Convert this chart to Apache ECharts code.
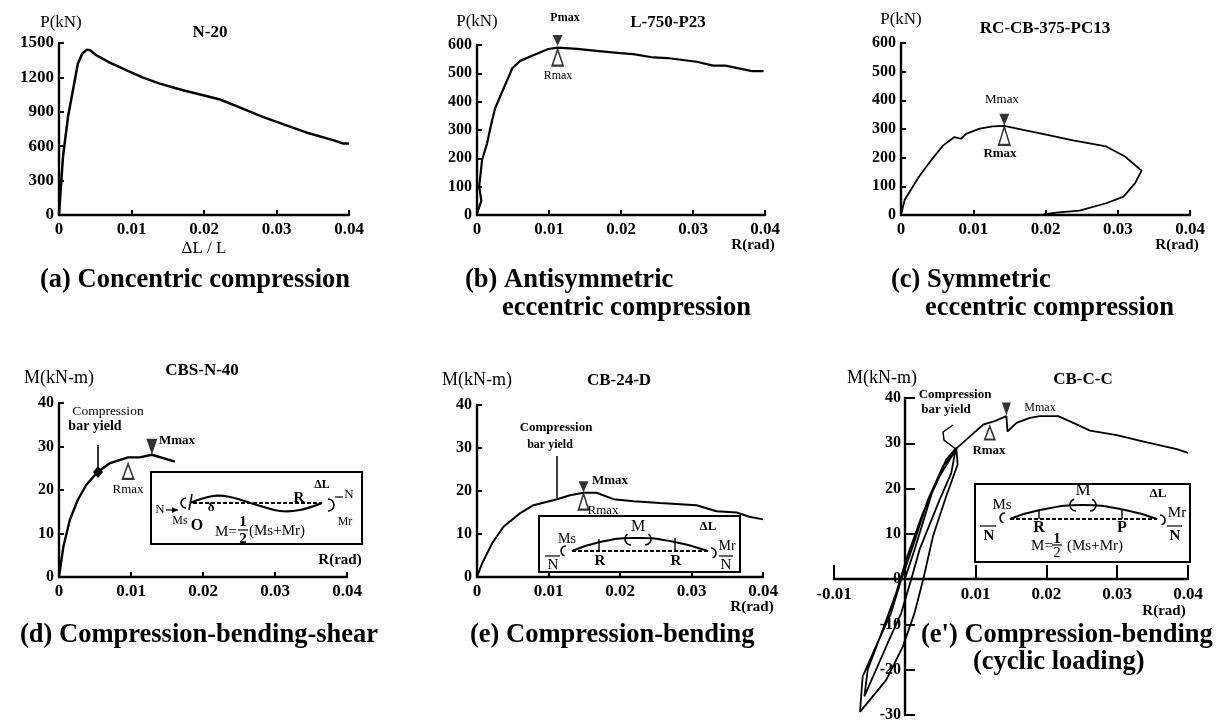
<!DOCTYPE html>
<html><head><meta charset="utf-8">
<style>html,body{margin:0;padding:0;background:#fff}#c{width:1223px;height:720px}</style>
<script src="https://cdn.jsdelivr.net/npm/echarts@6/dist/echarts.min.js"></script>
</head><body><div id="c"></div>
<script>
// ---- data: [x, y] ----
const curveA = [[0,0],[0.00023,218],[0.00055,508],[0.00124,856],[0.00184,1059],[0.0026,1320],[0.0032,1407],[0.00386,1442],[0.0043,1436],[0.00515,1393],[0.007,1329],[0.0095,1256],[0.0116,1198],[0.0139,1146],[0.0171,1088],[0.0199,1045],[0.0222,1007],[0.0245,949],[0.0281,856],[0.0304,804],[0.0341,720],[0.0378,653],[0.0392,624],[0.04,624]];
const curveB = [[0,5],[0.0006,50],[0.0003,100],[0.0007,194],[0.0014,253],[0.0019,312],[0.0025,376],[0.0035,435],[0.0049,518],[0.006,544],[0.0079,565],[0.0099,586],[0.0112,591],[0.0139,586],[0.0166,579],[0.0199,571],[0.0217,568],[0.0245,556],[0.0264,554],[0.0305,541],[0.0328,527],[0.0345,527],[0.0382,508],[0.0398,508]];
const curveC = [[0,0],[0.0005,52],[0.0025,134],[0.0042,192],[0.0058,242],[0.0074,272],[0.0083,266],[0.009,283],[0.0109,301],[0.0127,309],[0.0143,311],[0.0169,297],[0.0201,280],[0.0238,260],[0.0284,239],[0.031,204],[0.0333,155],[0.0324,111],[0.0308,64],[0.0284,41],[0.0247,15],[0.0215,8],[0.0197,2]];
const curveD = [[0,0],[0.0006,6.9],[0.0015,13.1],[0.0026,17.7],[0.0038,21.2],[0.0054,24.2],[0.0071,26.2],[0.0096,27.5],[0.0112,27.5],[0.0129,28.1],[0.0161,26.5]];
const curveE = [[0,0],[0.0007,3.1],[0.0021,7.8],[0.0037,11.7],[0.006,14.8],[0.0079,16.7],[0.0112,18.1],[0.013,19],[0.0149,19.6],[0.0167,19.6],[0.0191,18.1],[0.0219,17.6],[0.0256,17.2],[0.0307,16.7],[0.0335,15.3],[0.0363,15],[0.0381,14],[0.04,13.4]];
const curveF = [[0,0],[0.00137,6.5],[0.00397,19.7],[0.00585,26.4],[0.00727,29],[0.00746,25.3],[0.00585,18.3],[0.00397,9.4],[0.00264,0.2],[0.00137,-7.5],[-0.00028,-14.9],[-0.00264,-22.3],[-0.00633,-29.3],[-0.00595,-21.5],[-0.0043,-15.6],[-0.00194,-7.5],[-0.0005,-0.1],[0.00113,7.2],[0.00326,17.5],[0.00538,24.9],[0.00718,28.6],[0.00656,23.4],[0.00491,17.5],[0.00208,6.5],[0.0009,-0.1],[-0.0005,-7.5],[-0.00241,-14.1],[-0.00571,-25.9],[-0.00524,-20],[-0.00312,-11.2],[-0.00123,-3.1],[0.00019,4.3],[0.00255,14.6],[0.00491,22.7],[0.00737,29],[0.00869,30.8],[0.01105,34.1],[0.0127,34.9],[0.01435,36],[0.0145,32.6],[0.01577,34.5],[0.01766,35.6],[0.01907,36],[0.02167,36],[0.0238,34.5],[0.02616,32.8],[0.02993,31.8],[0.03418,30.2],[0.03843,28.7],[0.04,27.9]];

const specimenNames = ['N-20','L-750-P23','RC-CB-375-PC13','CBS-N-40','CB-24-D','CB-C-C'];
const yAxisNames = ['P(kN)','P(kN)','P(kN)','M(kN-m)','M(kN-m)','M(kN-m)'];
const xAxisNames = ['ΔL / L','R(rad)','R(rad)','R(rad)','R(rad)','R(rad)'];
const yMax = [1500,600,600,40,40,40];
const yStep = [300,100,100,10,10,10];
const curves = [curveA,curveB,curveC,curveD,curveE,curveF];
const lineWidths = [2.5,2.2,1.8,2.4,2,1.8];

// peak markers: [x, y, offset px, size]
const maxMarks = [null,[0.0112,591,-7,[10,11]],[0.0143,311,-6,[10,12]],[0.0129,28.1,-8,[11,16]],[0.0149,19.6,-6,[10,11]],[0.01435,36,-7,[9,13]]];
const rotMarks = [null,[0.0112,591,10,[11,16]],[0.0143,311,10,[11,18]],[0.0096,27.5,14,[11,15]],[0.0149,19.6,9,[10,16]],[0.012,34.5,10,[10,13]]];

// ---- layout ----
const SERIF = '"Liberation Serif","Times New Roman",serif';
const grids = [
 {left:59,top:43,width:290,height:172},{left:477,top:45,width:288,height:170},{left:901,top:43,width:289,height:172},
 {left:59,top:403,width:288,height:174},{left:477,top:405,width:286,height:172},{left:834,top:398,width:354,height:317}];
const titlesAt = [[210,24],[668,14],[1045,20],[202,362],[619,372],[1083,371]];
// x-name placement: gap back from axis end, px below (+) or above (-) axis
const xNames = [null,[-12,31],[-13,31],[-7,-17],[-11,31],[-24,33]];

const ink = '#000';
const xAxes = grids.map((g,i)=>{
  const a = {type:'value',gridIndex:i,min:i===5?-0.01:0,max:0.04,interval:0.01,splitLine:{show:false},
    axisLine:{onZero:false,lineStyle:{color:ink,width:2.4}},position:'bottom',offset:i===5?-136:0,
    axisTick:{inside:true,length:i===5?14:5,lineStyle:{color:ink,width:2}},
    axisLabel:{color:ink,fontFamily:SERIF,fontWeight:'bold',fontSize:17,margin:i===5?7:6,showMaxLabel:true,showMinLabel:true,
      formatter:v=> (i===5&&Math.abs(v)<1e-9)?'':String(+v.toFixed(2))},
    name:xAxisNames[i],nameMoveOverlap:false};
  const ns = {color:ink,fontFamily:SERIF,fontSize:i===0?17:15,fontWeight:i===0?'normal':'bold',align:'center'};
  if(i===0){a.nameLocation='middle';a.nameGap=25;}
  else{
    const [dx,dy]=xNames[i];
    a.nameLocation='end';a.nameGap=dx;
    if(dy>0){ns.verticalAlign='top';ns.padding=[dy-8,0,0,0];}
    else{ns.verticalAlign='bottom';ns.padding=[0,0,-dy-8,0];}
  }
  a.nameTextStyle=ns;
  return a;
});
const yAxes = grids.map((g,i)=>({type:'value',gridIndex:i,min:i===5?-30:0,max:yMax[i],interval:yStep[i],splitLine:{show:false},
    axisLine:{onZero:false,lineStyle:{color:ink,width:2.4}},position:'left',offset:i===5?-71:0,
    axisTick:{inside:true,length:i===5?10:5,lineStyle:{color:ink,width:2}},
    axisLabel:{color:ink,fontFamily:SERIF,fontWeight:'bold',fontSize:i===0?17:16,margin:i===5?4:5,showMaxLabel:true,showMinLabel:true,
      formatter:v=>String(v)},
    name:yAxisNames[i],nameMoveOverlap:false,nameLocation:'end',nameGap:i<3?(i===0?12:15):(i===5?11:16),
    nameTextStyle:{color:ink,fontFamily:SERIF,fontSize:i<3?17:18,align:'center',padding:i===5?[0,46,0,0]:[0,0,0,i===0?4:0]}}));

const series = [];
curves.forEach((c,i)=>{
  series.push({type:'line',xAxisIndex:i,yAxisIndex:i,data:c,showSymbol:false,smooth:false,silent:true,clip:false,
    lineStyle:{color:ink,width:lineWidths[i]}});
  if(maxMarks[i]){
    const m=maxMarks[i], r=rotMarks[i];
    series.push({type:'scatter',xAxisIndex:i,yAxisIndex:i,silent:true,clip:false,z:5,data:[[m[0],m[1]]],symbol:'triangle',symbolRotate:180,
      symbolSize:m[3],symbolOffset:[0,m[2]],itemStyle:{color:ink}});
    series.push({type:'scatter',xAxisIndex:i,yAxisIndex:i,silent:true,clip:false,z:5,data:[[r[0],r[1]]],symbol:'triangle',
      symbolSize:r[3],symbolOffset:[0,r[2]],itemStyle:{color:'#fff',borderColor:ink,borderWidth:1.8}});
  }
});

// ---- annotations ----
const G = [];
const txt=(x,y,t,o={})=>G.push({type:'text',z:100,x,y,style:{text:t,fill:ink,align:o.align||'center',verticalAlign:'middle',
   font:`${o.bold?'bold ':''}${o.size||13}px ${SERIF}`}});
const line=(x1,y1,x2,y2,w=1.5,dash)=>G.push({type:'line',z:100,shape:{x1,y1,x2,y2},style:{stroke:ink,lineWidth:w,lineDash:dash||null}});
const poly=(pts,w=1.5,smooth=0)=>G.push({type:'polyline',z:100,shape:{points:pts,smooth},style:{stroke:ink,lineWidth:w,fill:null}});
const tri=(pts)=>G.push({type:'polygon',z:100,shape:{points:pts},style:{fill:ink}});
const arc=(cx,cy,r,a,b,w=1.6)=>G.push({type:'arc',z:100,shape:{cx,cy,r,startAngle:a,endAngle:b},style:{stroke:ink,lineWidth:w,fill:null}});
const box=(x,y,w,h)=>G.push({type:'rect',z:99,shape:{x,y,width:w,height:h},style:{fill:'#fff',stroke:ink,lineWidth:2}});

// captions
const cap=(x,y,t)=>txt(x,y,t,{bold:true,size:26.5,align:'left'});
cap(40,280,'(a) Concentric compression');
cap(465,280,'(b) Antisymmetric');
cap(502,308,'eccentric compression');
cap(891,280,'(c) Symmetric');
cap(925,308,'eccentric compression');
cap(20,635,'(d) Compression-bending-shear');
cap(470,635,'(e) Compression-bending');
cap(921,635,"(e') Compression-bending");
cap(973,662,'(cyclic loading)');

// peak labels
txt(565,18,'Pmax',{size:12,bold:true});txt(558,76,'Rmax',{size:12});
txt(1002,100,'Mmax',{size:13});txt(1000,154,'Rmax',{size:13,bold:true});
txt(177,441,'Mmax',{size:13,bold:true});txt(128,490,'Rmax',{size:13});
txt(610,481,'Mmax',{size:13,bold:true});txt(603,511,'Rmax',{size:13});
txt(1040,408,'Mmax',{size:12});txt(989,451,'Rmax',{size:13,bold:true});

// compression bar yield notes
txt(108,411,'Compression',{size:13.5,align:'center'});txt(95,426,'bar yield',{size:14,bold:true});
line(98,445,98,470,1.6);tri([[93,472],[98,466],[103,472],[98,478]]);
txt(556,428,'Compression',{size:13,bold:true});txt(550,445,'bar yield',{size:12,bold:true});
line(557,456,557,498,1.5);
txt(955,395,'Compression',{size:13,bold:true});txt(946,410,'bar yield',{size:13,bold:true});
poly([[953,425],[943,432],[944,440],[957,450]],1.5);

// insets
// (d)
box(151,472,211,72);
poly([[190,503],[213,496],[230,497],[257,505],[280,511],[300,510],[322,503]],2.2,0.4);
line(193,503,322,503,2,[4,2]);
line(192,494,189,510,1.5);arc(186,503,5,Math.PI*0.5,Math.PI*1.5);
arc(328,505,6,-Math.PI*0.5,Math.PI*0.5);
poly([[166,510],[178,510]],1.2);tri([[178,510],[172,507],[172,513]]);
txt(160,510,'N',{size:13});txt(180,521,'Ms',{size:12});txt(197,526,'O',{size:16,bold:true});
txt(349,495,'N',{size:13});line(335,497,343,497,1.2);txt(345,522,'Mr',{size:12});
txt(299,498,'R',{size:15,bold:true});
txt(226,532,'M=',{size:15});txt(243,522,'1',{size:15,bold:true});line(238,530,248,530,1.2);txt(243,539,'2',{size:15,bold:true});
txt(277,531,'(Ms+Mr)',{size:15});
txt(211,508,'δ',{size:13,bold:true});txt(322,485,'ΔL',{size:12,bold:true});

// (e)
box(539,516,201,56);
poly([[572,551],[600,542],[633,538],[670,541],[708,551]],2,0.5);
line(572,551,708,551,2,[4,2]);
line(599,539,599,551,1.4);line(675,538,675,551,1.4);
txt(600,561,'R',{size:15,bold:true});txt(676,561,'R',{size:15,bold:true});
txt(638,527,'M',{size:16});arc(631,539,6,Math.PI*0.5,Math.PI*1.3);arc(645,539,6,-Math.PI*0.3,Math.PI*0.5);
txt(567,539,'Ms',{size:14});arc(566,551,5,Math.PI*0.6,Math.PI*1.5);
txt(727,546,'Mr',{size:14});arc(711,553,5,-Math.PI*0.5,Math.PI*0.4);
line(545,556,560,556,1.2);txt(553,565,'N',{size:15});line(719,556,733,556,1.2);txt(726,565,'N',{size:15});
txt(708,527,'ΔL',{size:13,bold:true});

// (e')
box(975,484,215,78);
poly([[1010,519],[1040,510],[1083,505],[1125,510],[1157,519]],2,0.5);
line(1010,519,1157,519,2,[4,2]);
line(1039,510,1039,519,1.4);line(1122,510,1122,519,1.4);
txt(1039,528,'R',{size:16,bold:true});txt(1122,528,'P',{size:16,bold:true});
txt(1083,491,'M',{size:17});arc(1076,505,6,Math.PI*0.5,Math.PI*1.4);arc(1090,505,6,-Math.PI*0.4,Math.PI*0.5);
txt(1002,505,'Ms',{size:15});arc(1005,518,5,Math.PI*0.6,Math.PI*1.5);
txt(1177,513,'Mr',{size:15});arc(1160,520,5,-Math.PI*0.5,Math.PI*0.4);
line(980,526,996,526,1.2);txt(989,536,'N',{size:15,bold:true});line(1167,526,1182,526,1.2);txt(1175,536,'N',{size:15,bold:true});
txt(1158,494,'ΔL',{size:13,bold:true});
txt(1042,546,'M=',{size:15});txt(1057,539,'1',{size:15,bold:true});line(1052,545,1062,545,1.2);txt(1057,553,'2',{size:14});
txt(1095,546,'(Ms+Mr)',{size:15});

const chart = echarts.init(document.getElementById('c'),null,{renderer:'canvas'});
chart.setOption({
  animation:false,backgroundColor:'#fff',
  title:specimenNames.map((n,i)=>({text:n,left:titlesAt[i][0],top:titlesAt[i][1],textAlign:'center',padding:0,
     textStyle:{color:ink,fontFamily:SERIF,fontSize:17,fontWeight:'bold'}})),
  grid:grids.map(g=>Object.assign({containLabel:false,outerBoundsMode:'none'},g)),
  xAxis:xAxes,yAxis:yAxes,series,graphic:{elements:G}
});
</script></body></html>
